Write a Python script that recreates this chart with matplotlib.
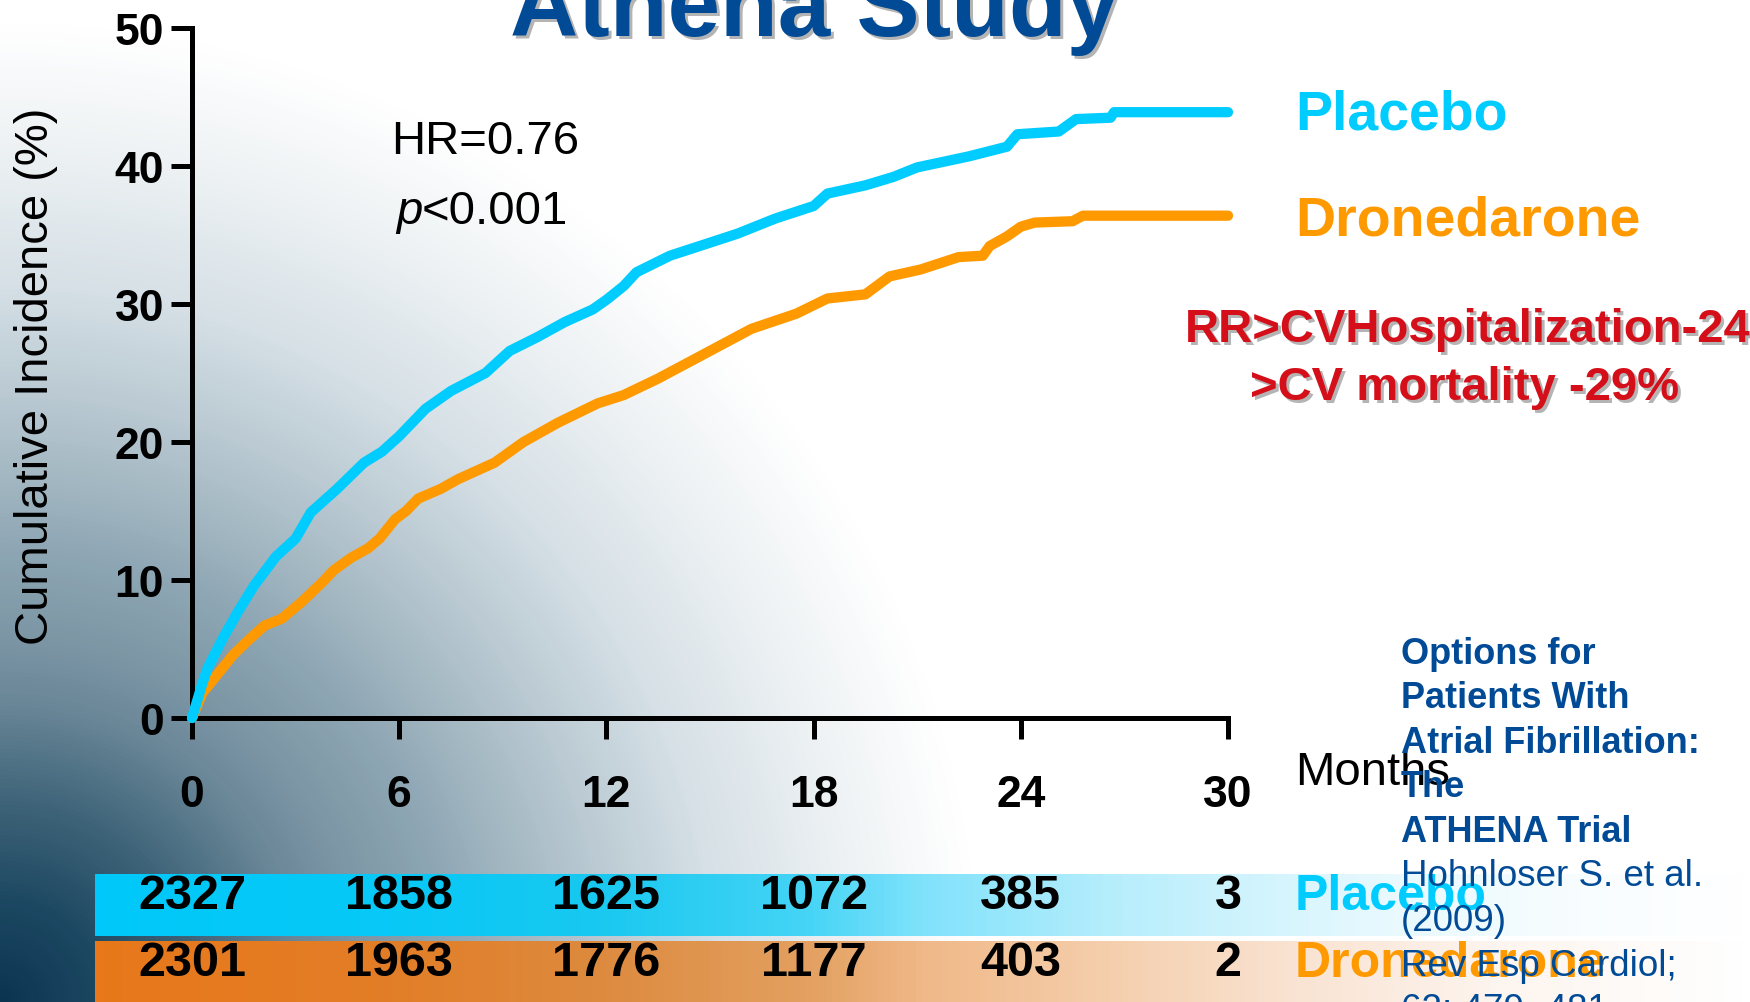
import numpy as np
import matplotlib
matplotlib.use("Agg")
import matplotlib.pyplot as plt
from matplotlib.colors import LinearSegmentedColormap
from matplotlib.transforms import blended_transform_factory

plt.rcParams['font.family'] = ['Liberation Sans', 'DejaVu Sans']

# ---- data ----
months_ticks = [0, 6, 12, 18, 24, 30]
incidence_ticks = [0, 10, 20, 30, 40, 50]

placebo_months = [0, 0.3, 0.45, 0.9, 1.33, 1.8, 2.43, 3.0, 3.44, 4.2, 4.98, 5.5, 5.99,
                  6.76, 7.5, 8.5, 9.2, 10.0, 10.8, 11.6, 12.0, 12.5, 12.87, 13.84, 14.7,
                  15.8, 16.9, 18.0, 18.4, 19.5, 20.3, 21.0, 22.5, 23.6, 23.9, 25.1, 25.6,
                  26.6, 26.7, 30.0]
placebo_pct = [0, 2.5, 3.6, 5.8, 7.7, 9.6, 11.7, 13.0, 14.9, 16.6, 18.5, 19.3, 20.4,
               22.4, 23.7, 25.0, 26.6, 27.6, 28.7, 29.6, 30.3, 31.3, 32.3, 33.5, 34.2,
               35.1, 36.2, 37.1, 38.0, 38.6, 39.2, 39.9, 40.7, 41.4, 42.3, 42.5, 43.4,
               43.5, 43.9, 43.9]

drone_months = [0, 0.3, 0.78, 1.2, 1.7, 2.1, 2.6, 3.17, 3.8, 4.1, 4.6, 5.1, 5.43, 5.88,
                6.2, 6.55, 7.2, 7.7, 8.76, 9.6, 10.6, 11.75, 12.5, 13.5, 14.7, 16.2,
                17.5, 18.4, 19.5, 20.2, 21.1, 22.2, 22.9, 23.1, 23.6, 24.0, 24.4, 25.5,
                25.8, 30.0]
drone_pct = [0, 1.8, 3.3, 4.6, 5.8, 6.7, 7.2, 8.4, 9.9, 10.7, 11.6, 12.3, 13.0, 14.4,
             15.0, 15.9, 16.6, 17.3, 18.5, 20.0, 21.4, 22.8, 23.4, 24.6, 26.2, 28.2,
             29.3, 30.4, 30.7, 32.0, 32.5, 33.4, 33.5, 34.2, 34.9, 35.6, 35.9, 36.0,
             36.4, 36.4]

at_risk_placebo = [2327, 1858, 1625, 1072, 385, 3]
at_risk_drone = [2301, 1963, 1776, 1177, 403, 2]

CYAN = '#00ccff'
ORANGE = '#ff9900'
NAVY = '#004a96'
RED = '#d50f19'

W, H = 1750, 1003
fig = plt.figure(figsize=(W / 100, H / 100), dpi=100)

# ---- background (pixel coordinates) ----
bg = fig.add_axes([0, 0, 1, 1])
bg.set_xlim(0, W)
bg.set_ylim(H, 0)
bg.axis('off')

yy, xx = np.mgrid[0:H, 0:W]
r = np.sqrt(xx ** 2 + (H - yy) ** 2)
stops = [(0, '#0b3450'), (100, '#1d4862'), (200, '#3f6479'), (300, '#6a8798'),
         (360, '#7b95a4'), (460, '#90a8b5'), (600, '#b8c8d1'), (720, '#d6e0e6'),
         (860, '#eef2f4'), (980, '#ffffff'), (1100, '#ffffff')]
rmax = stops[-1][0]
bg_cmap = LinearSegmentedColormap.from_list('bg', [(s / rmax, c) for s, c in stops])
bg.imshow(np.clip(r / rmax, 0, 1), cmap=bg_cmap, vmin=0, vmax=1,
          extent=(0, W, H, 0), aspect='auto', interpolation='bilinear', zorder=0)

# horizontal colour bands behind the numbers at risk
def band(y0, y1, color_stops):
    cm = LinearSegmentedColormap.from_list('band', color_stops)
    grad = np.linspace(0, 1, 512)[None, :]
    bg.imshow(grad, cmap=cm, extent=(95, W, y1, y0), aspect='auto',
              interpolation='bilinear', zorder=1)

band(875, 937, [(0, '#00c8fa'), (0.18, '#08c8f6'), (0.3, '#18c8f0'), (0.43, '#45d4f6'),
                (0.5, '#80e2fb'), (0.62, '#b8eefc'), (0.78, '#e8f9fe'), (0.9, '#f8fdff'),
                (1, '#ffffff')])
band(942, 1003, [(0, '#e8781a'), (0.18, '#e27e28'), (0.3, '#dd8a3e'), (0.43, '#e3a060'),
                 (0.5, '#f0b888'), (0.6, '#f4cca8'), (0.72, '#f9e2d0'), (0.85, '#fdf5ef'),
                 (1, '#ffffff')])

# ---- main plot ----
x0, x1, y0, y1 = 192, 1228, 719, 29
ax = fig.add_axes([x0 / W, 1 - y0 / H, (x1 - x0) / W, (y0 - y1) / H])
ax.patch.set_alpha(0)
ax.set_xlim(0, 30)
ax.set_ylim(0, 50)
for s in ['top', 'right']:
    ax.spines[s].set_visible(False)
for s in ['left', 'bottom']:
    ax.spines[s].set_linewidth(3.6)
    ax.spines[s].set_color('black')
ax.set_xticks(months_ticks)
ax.set_yticks(incidence_ticks)
ax.tick_params(axis='both', length=15, width=3.6, color='black', direction='out')
ax.tick_params(axis='x', pad=25)
ax.tick_params(axis='y', pad=5)
for lab in ax.get_xticklabels() + ax.get_yticklabels():
    lab.set_fontsize(32)
    lab.set_fontweight('bold')

ax.plot(drone_months, drone_pct, color=ORANGE, lw=7.4, solid_capstyle='round',
        solid_joinstyle='round', clip_on=False, zorder=3)
ax.plot(placebo_months, placebo_pct, color=CYAN, lw=7.4, solid_capstyle='round',
        solid_joinstyle='round', clip_on=False, zorder=4)

# ---- texts ----
def shadow_text(x, y, s, color, **kw):
    bg.text(x + 3, y + 3, s, color='#b4b4b4', zorder=5, **kw)
    bg.text(x, y, s, color=color, zorder=6, **kw)

shadow_text(815, 36, 'Athena Study', NAVY, fontsize=68, fontweight='bold',
            ha='center', va='baseline')

bg.text(36, 376, 'Cumulative Incidence (%)', fontsize=34, rotation=90,
        ha='center', va='center', zorder=6)
bg.text(391, 142, 'HR=0.76', fontsize=34, ha='left', va='center', zorder=6)
bg.text(396, 212, 'p', fontsize=34, style='italic', ha='left', va='center', zorder=6)
bg.text(422, 212, '<0.001', fontsize=34, ha='left', va='center', zorder=6)
bg.text(1295, 773, 'Months', fontsize=34, ha='left', va='center', zorder=6)

bg.text(1295, 115, 'Placebo', color=CYAN, fontsize=40, fontweight='bold',
        ha='left', va='center', zorder=6)
bg.text(1295, 221, 'Dronedarone', color=ORANGE, fontsize=40, fontweight='bold',
        ha='left', va='center', zorder=6)

shadow_text(1185, 330, 'RR>CVHospitalization-24%', RED, fontsize=34,
            fontweight='bold', ha='left', va='center')
shadow_text(1250, 388, '>CV mortality -29%', RED, fontsize=34,
            fontweight='bold', ha='left', va='center')

# numbers at risk, placed under the month ticks
risk_tr = blended_transform_factory(ax.transData, bg.transData)
for m, n in zip(months_ticks, at_risk_placebo):
    ax.text(m, 897, str(n), transform=risk_tr, fontsize=35, fontweight='bold',
            ha='center', va='center', clip_on=False, zorder=7)
for m, n in zip(months_ticks, at_risk_drone):
    ax.text(m, 964, str(n), transform=risk_tr, fontsize=35, fontweight='bold',
            ha='center', va='center', clip_on=False, zorder=7)

bg.text(1295, 897, 'Placebo', color=CYAN, fontsize=36, fontweight='bold',
        ha='left', va='center', zorder=6)
bg.text(1295, 964, 'Dronedarone', color=ORANGE, fontsize=36, fontweight='bold',
        ha='left', va='center', zorder=6)

# citation block
ref_bold = ['Options for', 'Patients With', 'Atrial Fibrillation:', 'The', 'ATHENA Trial']
ref_plain = ['Hohnloser S. et al.', '(2009)', 'Rev Esp Cardiol;', '62: 479- 481']
ref_y = 654
for line in ref_bold:
    bg.text(1401, ref_y, line, color=NAVY, fontsize=26, fontweight='bold',
            ha='left', va='center', zorder=8)
    ref_y += 44.6
for line in ref_plain:
    bg.text(1401, ref_y, line, color=NAVY, fontsize=26.5,
            ha='left', va='center', zorder=8)
    ref_y += 44.6

fig.savefig('out.png', dpi=100)
